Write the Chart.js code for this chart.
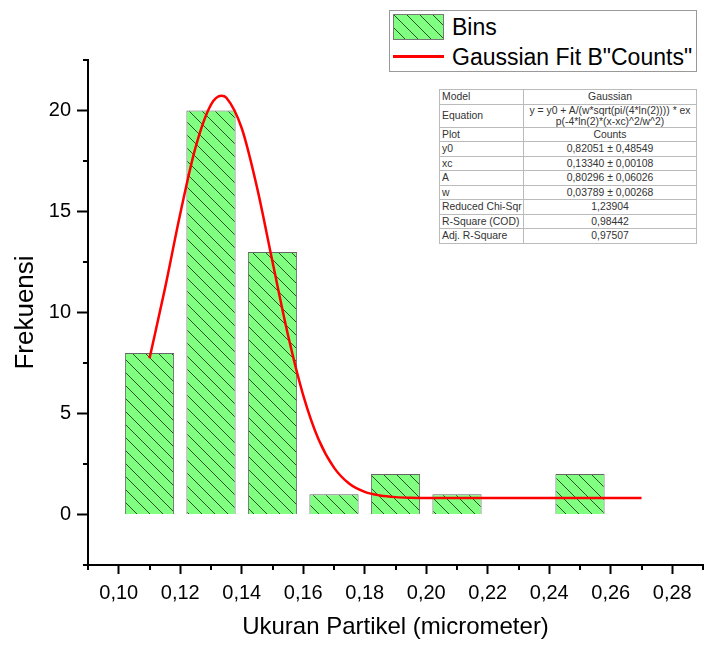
<!DOCTYPE html>
<html>
<head>
<meta charset="utf-8">
<script src="https://cdn.jsdelivr.net/npm/chart.js@4.4.0/dist/chart.umd.min.js"></script>
<style>
  body { margin: 0; background: #fff; font-family: 'Liberation Sans', Arial, sans-serif; }
  #wrap { position: relative; width: 704px; height: 645px; }
  #legend { position: absolute; left: 389px; top: 10px; width: 306px; height: 60px; border: 1px solid #999; background: #fff; }
  #legend canvas { position: absolute; left: 3px; top: 3px; border: 1px solid #777; }
  #legend .redLine { position: absolute; left: 3px; top: 44px; width: 51px; height: 3px; background: #ff0000; }
  #legend span { position: absolute; left: 62px; font-size: 23px; line-height: 26px; color: #000; white-space: nowrap; }
  #fitTable { position: absolute; left: 439px; top: 89px; width: 257px; table-layout: fixed; border-collapse: collapse; background: #fff; font-size: 10.4px; color: #333; }
  #fitTable td { border: 1px solid #bbb; padding: 0 2px; height: 13.5px; line-height: 11px; white-space: nowrap; overflow: hidden; }
  #fitTable td.val { text-align: center; }
</style>
</head>
<body>
<div id="wrap">
  <canvas id="chartCanvas" width="704" height="645"></canvas>
  <div id="legend">
    <canvas id="binSwatch" width="49" height="24"></canvas>
    <span style="top:3px">Bins</span>
    <div class="redLine"></div>
    <span style="top:33px">Gaussian Fit B"Counts"</span>
  </div>
  <table id="fitTable"><colgroup><col style="width:84px"><col style="width:173px"></colgroup></table>
</div>
<script>
const binCenters = [0.11, 0.13, 0.15, 0.17, 0.19, 0.21, 0.23, 0.25];
const binCounts = [8, 20, 13, 1, 2, 1, 0, 2];

// fit curve
const fitX = [0.110, 0.115, 0.120, 0.125, 0.130, 0.1334, 0.135, 0.140, 0.145, 0.150, 0.155, 0.160,
  0.165, 0.170, 0.175, 0.180, 0.185, 0.190, 0.195, 0.200, 0.210, 0.220, 0.240, 0.270];
const fitY = [7.73, 11.17, 14.89, 18.19, 20.29, 20.73, 20.63, 19.12, 16.17, 12.51, 8.91, 5.90,
  3.71, 2.32, 1.52, 1.12, 0.94, 0.86, 0.83, 0.82, 0.82, 0.82, 0.82, 0.82];

const xTickValues = [0.10, 0.12, 0.14, 0.16, 0.18, 0.20, 0.22, 0.24, 0.26, 0.28];
const xTickLabels = ['0,10', '0,12', '0,14', '0,16', '0,18', '0,20', '0,22', '0,24', '0,26', '0,28'];
const xMinorTicks = [0.09, 0.11, 0.13, 0.15, 0.17, 0.19, 0.21, 0.23, 0.25, 0.27, 0.29];
const yTickValues = [0, 5, 10, 15, 20];
const yMinorTicks = [-2.5, 2.5, 7.5, 12.5, 17.5, 22.5];

const fitRows = [
  ['Model', 'Gaussian'],
  ['Equation', 'y = y0 + A/(w*sqrt(pi/(4*ln(2)))) * ex<br>p(-4*ln(2)*(x-xc)^2/w^2)'],
  ['Plot', 'Counts'],
  ['y0', '0,82051 ± 0,48549'],
  ['xc', '0,13340 ± 0,00108'],
  ['A', '0,80296 ± 0,06026'],
  ['w', '0,03789 ± 0,00268'],
  ['Reduced Chi-Sqr', '1,23904'],
  ['R-Square (COD)', '0,98442'],
  ['Adj. R-Square', '0,97507']
];

const fontFamily = "'Liberation Sans', Arial, sans-serif";

// green fill with "\" hatching, like the Origin bins
function makeHatch(ctx) {
  const s = 13;
  const c = document.createElement('canvas');
  c.width = s; c.height = s;
  const g = c.getContext('2d');
  g.fillStyle = '#80ff80';
  g.fillRect(0, 0, s, s);
  g.strokeStyle = 'rgba(20,40,20,0.8)';
  g.lineWidth = 1;
  for (let k = -1; k <= 1; k++) {
    g.beginPath();
    g.moveTo(k * s - s, -s);
    g.lineTo(k * s + 2 * s, 2 * s);
    g.stroke();
  }
  return ctx.createPattern(c, 'repeat');
}

// fit table
const table = document.getElementById('fitTable');
fitRows.forEach(r => {
  const tr = document.createElement('tr');
  tr.innerHTML = '<td>' + r[0] + '</td><td class="val">' + r[1] + '</td>';
  table.appendChild(tr);
});

// legend swatch
const sw = document.getElementById('binSwatch').getContext('2d');
sw.fillStyle = makeHatch(sw);
sw.fillRect(0, 0, 49, 24);

const minorTicks = {
  id: 'minorTicks',
  afterDraw(chart) {
    const {ctx, scales: {x, y}} = chart;
    ctx.save();
    ctx.strokeStyle = '#000';
    ctx.lineWidth = 2;
    ctx.beginPath();
    xMinorTicks.forEach(v => {
      const px = Math.round(x.getPixelForValue(v));
      ctx.moveTo(px, x.top);
      ctx.lineTo(px, x.top + 5);
    });
    yMinorTicks.forEach(v => {
      const py = Math.round(y.getPixelForValue(v));
      ctx.moveTo(y.right, py);
      ctx.lineTo(y.right - 5, py);
    });
    ctx.stroke();
    ctx.restore();
  }
};

const ctx = document.getElementById('chartCanvas').getContext('2d');
const chart = new Chart(ctx, {
  type: 'bar',
  data: {
    datasets: [
      {
        type: 'line',
        label: 'Gaussian Fit B"Counts"',
        data: fitX.map((x, i) => ({x: x, y: fitY[i]})),
        borderColor: '#ff0000',
        borderWidth: 2.5,
        pointRadius: 0,
        fill: false,
        cubicInterpolationMode: 'monotone',
        order: 0
      },
      {
        label: 'Bins',
        data: binCenters.map((x, i) => ({x: x, y: binCounts[i]})),
        backgroundColor: makeHatch(ctx),
        borderColor: '#666',
        borderWidth: 1,
        barPercentage: 1.0,
        categoryPercentage: 0.8,
        order: 1
      }
    ]
  },
  options: {
    responsive: false,
    animation: false,
    devicePixelRatio: 1,
    layout: { padding: { top: 60, right: 1, left: 0, bottom: 0 } },
    plugins: {
      legend: { display: false },
      tooltip: { enabled: false }
    },
    scales: {
      x: {
        type: 'linear',
        min: 0.09,
        max: 0.29,
        offset: false,
        afterBuildTicks: s => { s.ticks = xTickValues.map(v => ({value: v})); },
        afterFit: s => { s.height = 80; },
        ticks: {
          callback: (v, i) => xTickLabels[i],
          font: { size: 20, family: fontFamily },
          color: '#000',
          padding: 7,
          maxRotation: 0,
          autoSkip: false
        },
        grid: { offset: false, drawOnChartArea: false, tickLength: 9, tickWidth: 2, tickColor: '#000' },
        border: { display: true, color: '#000', width: 2 },
        title: {
          display: true,
          text: 'Ukuran Partikel (micrometer)',
          font: { size: 24, family: fontFamily },
          color: '#000',
          padding: { top: 0, bottom: 3 }
        }
      },
      y: {
        min: -2.5,
        max: 22.5,
        afterBuildTicks: s => { s.ticks = yTickValues.map(v => ({value: v})); },
        afterFit: s => { s.width = 88; },
        ticks: {
          font: { size: 20, family: fontFamily },
          color: '#000',
          padding: 6
        },
        grid: { drawOnChartArea: false, tickLength: 11, tickWidth: 2, tickColor: '#000' },
        border: { display: true, color: '#000', width: 2 },
        title: {
          display: true,
          text: 'Frekuensi',
          font: { size: 26, family: fontFamily },
          color: '#000',
          padding: { top: 10, bottom: 0 }
        }
      }
    }
  },
  plugins: [minorTicks]
});
</script>
</body>
</html>
